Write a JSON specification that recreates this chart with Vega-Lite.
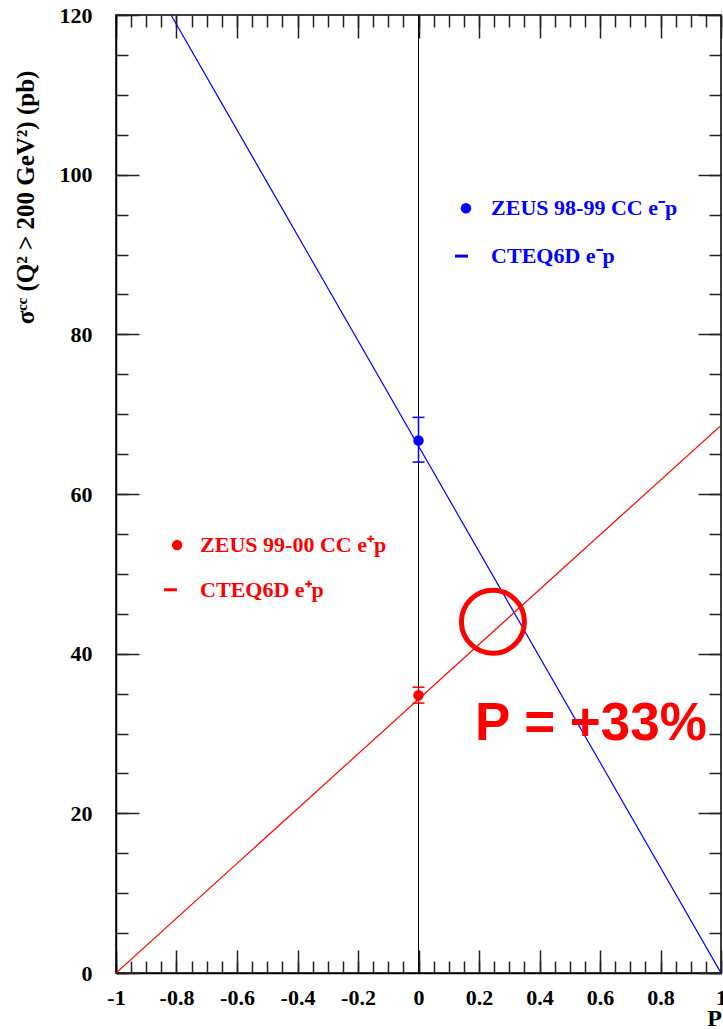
{
  "$schema": "https://vega.github.io/schema/vega-lite/v6.json",
  "width": 605,
  "height": 958,
  "autosize": {"type": "none"},
  "padding": {"left": 116, "top": 15, "right": 2, "bottom": 56},
  "background": "white",
  "config": {
    "view": {"stroke": "#000000", "strokeWidth": 1.5},
    "axis": {"grid": false, "domainColor": "#000000", "domainWidth": 1.5, "tickColor": "#222222", "tickWidth": 1.5, "labelFont": "Liberation Serif", "labelFontWeight": "bold", "labelFontSize": 22, "labelColor": "#000000", "titleFont": "Liberation Serif", "titleFontWeight": "bold", "titleColor": "#000000"}
  },
  "datasets": {
    "lines": [
      {"P": -0.818, "s": 120, "g": "minus"},
      {"P": 1, "s": 0, "g": "minus"},
      {"P": -1, "s": 0, "g": "plus"},
      {"P": 1, "s": 68.6, "g": "plus"}
    ],
    "points": [
      {"P": 0, "s": 66.7, "lo": 64.0, "hi": 69.6, "g": "minus"},
      {"P": 0, "s": 34.8, "lo": 33.8, "hi": 35.8, "g": "plus"}
    ],
    "legend": [
      {"P": 0.157, "s": 95.8, "tx": 0.24, "label": "ZEUS 98-99 CC e⁻p", "type": "dot", "g": "minus"},
      {"P": 0.142, "s": 89.8, "tx": 0.24, "label": "CTEQ6D e⁻p", "type": "dash", "g": "minus"},
      {"P": -0.798, "s": 53.6, "tx": -0.722, "label": "ZEUS 99-00 CC e⁺p", "type": "dot", "g": "plus"},
      {"P": -0.82, "s": 48.0, "tx": -0.722, "label": "CTEQ6D e⁺p", "type": "dash", "g": "plus"}
    ],
    "note": [{"P": 0.246, "s": 44.0, "tx": 0.187, "ty": 29.2, "label": "P = +33%"}]
  },
  "resolve": {"axis": {"x": "independent", "y": "independent"}},
  "layer": [
    {
      "data": {"name": "points"},
      "mark": {"type": "rule", "color": "#000000", "strokeWidth": 1},
      "encoding": {
        "x": {"field": "P", "type": "quantitative", "scale": {"domain": [-1, 1], "nice": false, "zero": false},
          "axis": {"orient": "bottom", "values": [-1, -0.8, -0.6, -0.4, -0.2, 0, 0.2, 0.4, 0.6, 0.8, 1], "tickSize": -23, "labelPadding": 37, "labelBaseline": "top", "labelFlush": false, "labelOverlap": false, "labelFontSize": 22, "labelExpr": "toString(datum.value)", "title": "P", "titleFontSize": 24, "titleX": 598, "titleY": 45, "titleBaseline": "middle", "titleAlign": "center"}},
        "y": {"datum": 0, "type": "quantitative", "scale": {"domain": [0, 120], "nice": false, "zero": false},
          "axis": {"orient": "left", "values": [0, 20, 40, 60, 80, 100, 120], "tickSize": -23, "labelPadding": 47, "labelFlush": false, "labelOverlap": false, "labelFontSize": 22, "labelExpr": "toString(datum.value)", "title": "σᶜᶜ (Q² > 200 GeV²) (pb)", "titleFontSize": 25, "titleAngle": -90, "titleX": -91, "titleY": 182, "titleAlign": "center", "titleBaseline": "middle"}},
        "y2": {"datum": 120}
      }
    },
    {
      "data": {"name": "lines"},
      "mark": {"type": "line", "strokeWidth": 1.2, "clip": true},
      "encoding": {
        "x": {"field": "P", "type": "quantitative", "scale": {"domain": [-1, 1], "nice": false, "zero": false},
          "axis": {"orient": "bottom", "values": [-1, -0.95, -0.9, -0.85, -0.8, -0.75, -0.7, -0.65, -0.6, -0.55, -0.5, -0.45, -0.4, -0.35, -0.3, -0.25, -0.2, -0.15, -0.1, -0.05, 0, 0.05, 0.1, 0.15, 0.2, 0.25, 0.3, 0.35, 0.4, 0.45, 0.5, 0.55, 0.6, 0.65, 0.7, 0.75, 0.8, 0.85, 0.9, 0.95, 1], "tickSize": -12, "labels": false, "domain": false, "title": null}},
        "y": {"field": "s", "type": "quantitative", "scale": {"domain": [0, 120], "nice": false, "zero": false},
          "axis": {"orient": "left", "values": [0, 5, 10, 15, 20, 25, 30, 35, 40, 45, 50, 55, 60, 65, 70, 75, 80, 85, 90, 95, 100, 105, 110, 115, 120], "tickSize": -12, "labels": false, "domain": false, "title": null}},
        "color": {"field": "g", "type": "nominal", "scale": {"domain": ["minus", "plus"], "range": ["#0000ff", "#ff0000"]}, "legend": null}
      }
    },
    {
      "data": {"name": "points"},
      "mark": {"type": "rule", "strokeWidth": 1.5},
      "encoding": {
        "x": {"field": "P", "type": "quantitative", "scale": {"domain": [-1, 1], "nice": false, "zero": false},
          "axis": {"orient": "top", "values": [-1, -0.8, -0.6, -0.4, -0.2, 0, 0.2, 0.4, 0.6, 0.8, 1], "tickSize": -23, "labels": false, "domain": false, "title": null}},
        "y": {"field": "lo", "type": "quantitative", "scale": {"domain": [0, 120], "nice": false, "zero": false},
          "axis": {"orient": "right", "values": [0, 20, 40, 60, 80, 100, 120], "tickSize": -23, "labels": false, "domain": false, "title": null}},
        "y2": {"field": "hi"},
        "color": {"field": "g", "type": "nominal", "scale": {"domain": ["minus", "plus"], "range": ["#0000ff", "#ff0000"]}, "legend": null}
      }
    },
    {
      "data": {"name": "points"},
      "mark": {"type": "tick", "orient": "horizontal", "size": 12, "thickness": 1.5, "opacity": 1},
      "encoding": {
        "x": {"field": "P", "type": "quantitative", "scale": {"domain": [-1, 1], "nice": false, "zero": false},
          "axis": {"orient": "top", "values": [-1, -0.95, -0.9, -0.85, -0.8, -0.75, -0.7, -0.65, -0.6, -0.55, -0.5, -0.45, -0.4, -0.35, -0.3, -0.25, -0.2, -0.15, -0.1, -0.05, 0, 0.05, 0.1, 0.15, 0.2, 0.25, 0.3, 0.35, 0.4, 0.45, 0.5, 0.55, 0.6, 0.65, 0.7, 0.75, 0.8, 0.85, 0.9, 0.95, 1], "tickSize": -12, "labels": false, "domain": false, "title": null}},
        "y": {"field": "lo", "type": "quantitative", "scale": {"domain": [0, 120], "nice": false, "zero": false},
          "axis": {"orient": "right", "values": [0, 5, 10, 15, 20, 25, 30, 35, 40, 45, 50, 55, 60, 65, 70, 75, 80, 85, 90, 95, 100, 105, 110, 115, 120], "tickSize": -12, "labels": false, "domain": false, "title": null}},
        "color": {"field": "g", "type": "nominal", "scale": {"domain": ["minus", "plus"], "range": ["#0000ff", "#ff0000"]}, "legend": null}
      }
    },
    {
      "data": {"name": "points"},
      "mark": {"type": "tick", "orient": "horizontal", "size": 12, "thickness": 1.5, "opacity": 1},
      "encoding": {
        "x": {"field": "P", "type": "quantitative", "scale": {"domain": [-1, 1], "nice": false, "zero": false}, "axis": null},
        "y": {"field": "hi", "type": "quantitative", "scale": {"domain": [0, 120], "nice": false, "zero": false}, "axis": null},
        "color": {"field": "g", "type": "nominal", "scale": {"domain": ["minus", "plus"], "range": ["#0000ff", "#ff0000"]}, "legend": null}
      }
    },
    {
      "data": {"name": "points"},
      "mark": {"type": "point", "shape": "circle", "filled": true, "size": 110, "opacity": 1},
      "encoding": {
        "x": {"field": "P", "type": "quantitative", "scale": {"domain": [-1, 1], "nice": false, "zero": false}, "axis": null},
        "y": {"field": "s", "type": "quantitative", "scale": {"domain": [0, 120], "nice": false, "zero": false}, "axis": null},
        "color": {"field": "g", "type": "nominal", "scale": {"domain": ["minus", "plus"], "range": ["#0000ff", "#ff0000"]}, "legend": null}
      }
    },
    {
      "data": {"name": "legend"},
      "transform": [{"filter": "datum.type === 'dot'"}],
      "mark": {"type": "point", "shape": "circle", "filled": true, "size": 110, "opacity": 1},
      "encoding": {
        "x": {"field": "P", "type": "quantitative", "scale": {"domain": [-1, 1], "nice": false, "zero": false}, "axis": null},
        "y": {"field": "s", "type": "quantitative", "scale": {"domain": [0, 120], "nice": false, "zero": false}, "axis": null},
        "color": {"field": "g", "type": "nominal", "scale": {"domain": ["minus", "plus"], "range": ["#0000ff", "#ff0000"]}, "legend": null}
      }
    },
    {
      "data": {"name": "legend"},
      "transform": [{"filter": "datum.type === 'dash'"}],
      "mark": {"type": "tick", "orient": "horizontal", "size": 13, "thickness": 3, "opacity": 1},
      "encoding": {
        "x": {"field": "P", "type": "quantitative", "scale": {"domain": [-1, 1], "nice": false, "zero": false}, "axis": null},
        "y": {"field": "s", "type": "quantitative", "scale": {"domain": [0, 120], "nice": false, "zero": false}, "axis": null},
        "color": {"field": "g", "type": "nominal", "scale": {"domain": ["minus", "plus"], "range": ["#0000ff", "#ff0000"]}, "legend": null}
      }
    },
    {
      "data": {"name": "legend"},
      "mark": {"type": "text", "align": "left", "baseline": "middle", "font": "Liberation Serif", "fontWeight": "bold", "fontSize": 22},
      "encoding": {
        "x": {"field": "tx", "type": "quantitative", "scale": {"domain": [-1, 1], "nice": false, "zero": false}, "axis": null},
        "y": {"field": "s", "type": "quantitative", "scale": {"domain": [0, 120], "nice": false, "zero": false}, "axis": null},
        "text": {"field": "label"},
        "color": {"field": "g", "type": "nominal", "scale": {"domain": ["minus", "plus"], "range": ["#0000ff", "#ff0000"]}, "legend": null}
      }
    },
    {
      "data": {"name": "note"},
      "mark": {"type": "point", "shape": "circle", "filled": false, "size": 3960, "strokeWidth": 5, "color": "#ff0000", "opacity": 1},
      "encoding": {
        "x": {"field": "P", "type": "quantitative", "scale": {"domain": [-1, 1], "nice": false, "zero": false}, "axis": null},
        "y": {"field": "s", "type": "quantitative", "scale": {"domain": [0, 120], "nice": false, "zero": false}, "axis": null}
      }
    },
    {
      "data": {"name": "note"},
      "mark": {"type": "text", "align": "left", "baseline": "alphabetic", "font": "Liberation Sans", "fontWeight": "bold", "fontSize": 53, "color": "#ff0000"},
      "encoding": {
        "x": {"field": "tx", "type": "quantitative", "scale": {"domain": [-1, 1], "nice": false, "zero": false}, "axis": null},
        "y": {"field": "ty", "type": "quantitative", "scale": {"domain": [0, 120], "nice": false, "zero": false}, "axis": null},
        "text": {"field": "label"}
      }
    }
  ]
}
